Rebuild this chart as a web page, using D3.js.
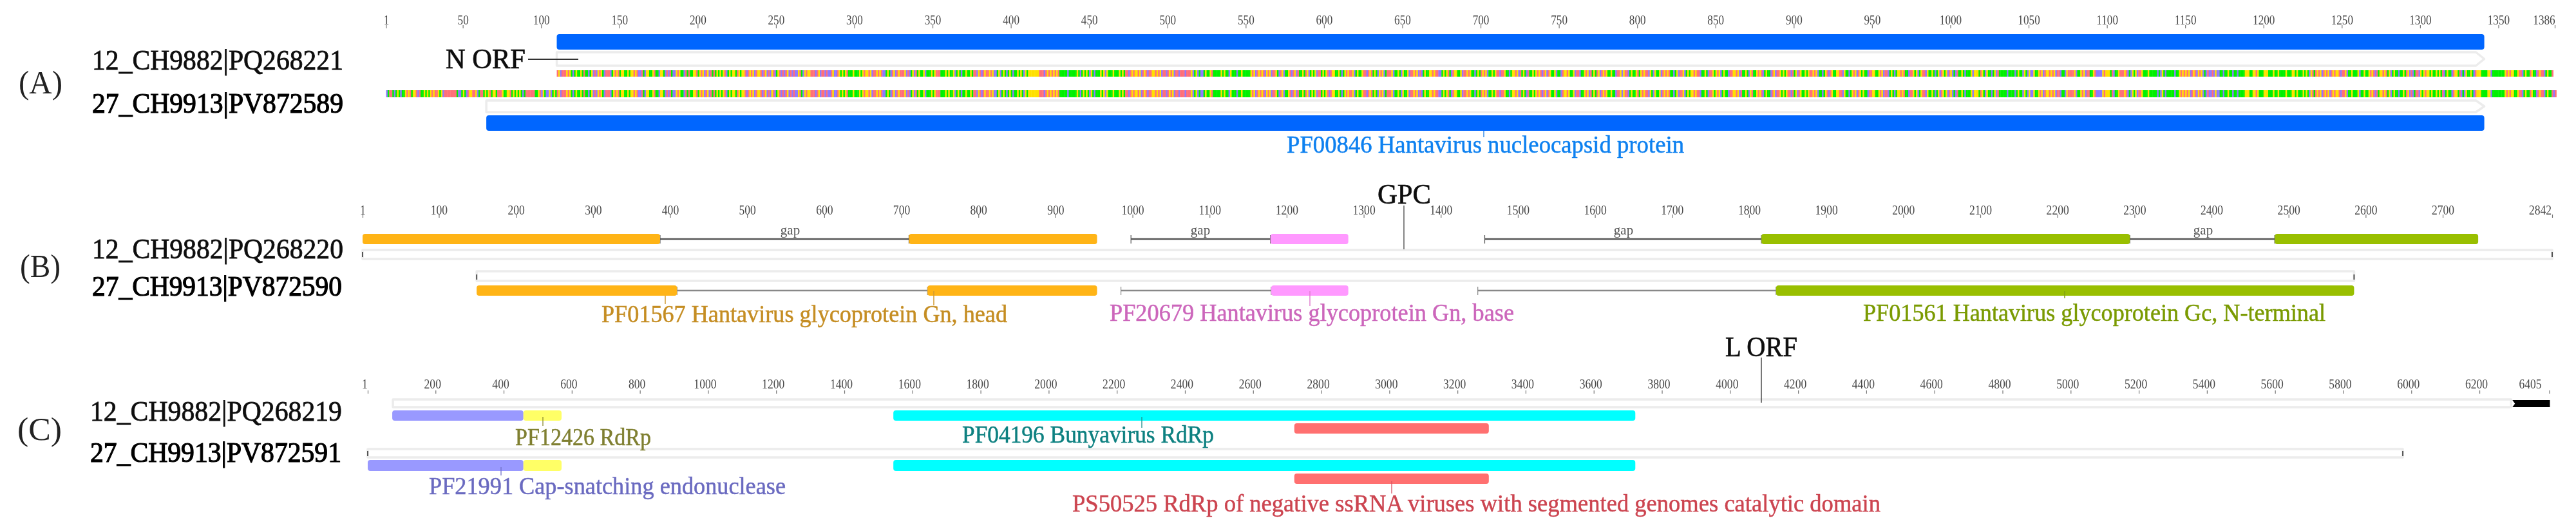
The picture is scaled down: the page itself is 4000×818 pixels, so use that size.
<!DOCTYPE html>
<html>
<head>
<meta charset="utf-8">
<script src="https://cdn.jsdelivr.net/npm/d3@7"></script>
<style>
  html, body { margin: 0; padding: 0; background: #ffffff; }
  svg { display: block; font-family: "Liberation Serif", serif; }
</style>
</head>
<body>
<div id="chart"></div>
<script>
// Ruler ticks, in alignment coordinates
const nTicks = [1, 50, 100, 150, 200, 250, 300, 350, 400, 450, 500, 550, 600, 650, 700, 750, 800, 850, 900, 950, 1000, 1050, 1100, 1150, 1200, 1250, 1300, 1350, 1386];
const gpcTicks = [1, 100, 200, 300, 400, 500, 600, 700, 800, 900, 1000, 1100, 1200, 1300, 1400, 1500, 1600, 1700, 1800, 1900, 2000, 2100, 2200, 2300, 2400, 2500, 2600, 2700, 2842];
const lTicks = [1, 200, 400, 600, 800, 1000, 1200, 1400, 1600, 1800, 2000, 2200, 2400, 2600, 2800, 3000, 3200, 3400, 3600, 3800, 4000, 4200, 4400, 4600, 4800, 5000, 5200, 5400, 5600, 5800, 6000, 6200, 6405];

// Sequence names
const nNames = ["12_CH9882|PQ268221", "27_CH9913|PV872589"];
const gpcNames = ["12_CH9882|PQ268220", "27_CH9913|PV872590"];
const lNames = ["12_CH9882|PQ268219", "27_CH9913|PV872591"];

// N ORF: annotated ranges
const nDomain12 = [[110, 1341]];
const nDomain27 = [[65, 1341]];
const nArrow12 = [110, 1341];
const nArrow27 = [65, 1341];
const nStrip12 = [110, 1384];

// Nucleotide strip, estimated by eye in blocks of 50 bases
const nBases = [
  "CTAATCTGTCTTGAGATGGACATTGTGTGAGAAGTGCAAAAAAAATCCTG",
  "TCAGGAAGCTAATGTGATGGTAAAGTTGGATGTGTGTCTAAAAAATTGAC",
  "GTCCGCTGTAGCAAAGAGTCTGTTGTATTCTGCACGAGTCAAACTGAGAT",
  "GGTTGTGGAGACCATCGGTTGATTCGGTCACATCCGAGTTCATATTGGAT",
  "GAGCAGCATATGTGTGACTGTGGTAGTGGACAGAGCAGGACAGCACGACT",
  "GACACAGCACACCGATCGAGGAAACAGCAACACCAGCCAGTGTGATTTGT",
  "TTGTGAGGAGCAAGAGACCTGTCAGCAGAAAGCACTGCATGTTGCTTTGT",
  "GAAATTTGTGTTGCTGTCTTGTTGTAACGACAGAAGAGCCTGCTGTCTGT",
  "CTTGTGTCGTGGGGGGGAAACAGAGAGAGATTTTTCTTTTTGTCTGTGTC",
  "GTCTTTGTGCGTTTGTTTGTGTAACAGAGGAGCAGACAAGGAGAGCAACA",
  "GAGCAACAAACAAAGCTGCTCCTGTTGATTTTTGTGTTCGTTTCTTGTTT",
  "TTGAGCAGAGACGAGCAAGTCAGCTTGACAGCATTGTAGCTGTGCAATGT",
  "GACAGGTTGTCTGAGAAGCTGTTGAACAGATGTCGAGCTAAAGCTTGTCG",
  "TTGCAAGAGCACTGTTGGAGAACCTGTGATCAGGTTGCAAGAGTTCTGTA",
  "GAGCTTGTGAACAAGTTCTGGAGCATGTCATTGTGAGACAGCAGTTGCTT",
  "CAGGAGTTGCAACTTGAGCATGTAGCAGAGTTGTTCAAGCGAACTGTTGA",
  "TGAGAACGTCGTTGCAGAGATTCTGCAAGCTGTGGAGAACTTGTCAAGTG",
  "AGCTGTTCAAGGAGCATTGTCGATTGAGACTGTTCAGCAAGTGTGAACAT",
  "GCAGTTGTGAAGAGCTTCTGACAGTTGGAACGTTCTGAGCAGTGTTCAAG",
  "GTTGAGCAACTGTCTGGAGATTCAAGTGCTGAACGTTGTCTGCAGTGCAG",
  "CTCATTGTCTTTGCGGGTAGTCGTTCTGCATTTTTCTTTTCTGTTCGTCG",
  "CCGTTGAGCAGGAGAGCAACTTCGAAAAGCTTGAGCAATTGACCCCGAGG",
  "GTACTTGAAAGACTCGTGCAAGTTTGTTTTTCTCGTCTTTTTCTTGAGAG",
  "AGCAGACGAGCTCACCACGCCTTCTTGTTCTTCTTTTGGGTTGGAGTTTG",
  "GGTTTGTTGTTTTGTTTGGTGTTTGTGTCGATAGAGCAGAGCAGAGGACA",
  "AGCTTGTTTGCTTGTTGAGACATGGAGATGCTGTTCTTGTAGCACTAACG",
  "TGAGGTGTTGTGTACTGTTCAGGTACTCGTTGTCAGGGTTTTGGCTTTTT",
  "TTTGAGAGGTTGAACTGTTAGTTCAGAACTGTTACA"
];

// GPC ranges
const gpcGn12 = [[1, 387], [710, 954]];
const gpcBase12 = [[1179, 1280]];
const gpcGc12 = [[1816, 2294], [2482, 2746]];
const gpcGaps12 = [[387, 710], [998, 1179], [1457, 1816], [2294, 2482]];
const gpcGn27 = [[149, 409], [734, 954]];
const gpcBase27 = [[1180, 1280]];
const gpcGc27 = [[1835, 2585]];
const gpcGaps27 = [[409, 734], [985, 1180], [1448, 1835]];
const gpcArrow12 = [1, 2842];
const gpcArrow27 = [149, 2585];

// L ORF ranges
const lCap12 = [[73, 458]];
const lRdRpShort12 = [[458, 570]];
const lBunya12 = [[1544, 3722]];
const lCatalytic12 = [[2721, 3292]];
const lCap27 = [[1, 458]];
const lRdRpShort27 = [[458, 570]];
const lBunya27 = [[1544, 3722]];
const lCatalytic27 = [[2721, 3292]];
const lArrow12 = [75, 6293];
const lArrow27 = [1, 5975];
const lTail12 = [6293, 6405];

const baseColor = {A: "#ff6f78", C: "#8f78ff", G: "#ffe000", T: "#00f000"};

const width = 4000;
const height = 818;

const svg = d3.select("#chart")
  .append("svg")
  .attr("width", width)
  .attr("height", height);

// The source is a soft, upscaled image, so everything gets a slight blur
svg.append("defs").append("filter").attr("id", "soft")
  .attr("filterUnits", "userSpaceOnUse")
  .attr("x", 0).attr("y", 0).attr("width", width).attr("height", height)
  .append("feGaussianBlur").attr("stdDeviation", 0.7);

const root = svg.append("g").attr("filter", "url(#soft)");

// One linear scale per panel
const xN = d3.scaleLinear().domain([1, 1386]).range([599.5, 3967]);
const xGpc = d3.scaleLinear().domain([1, 2842]).range([563, 3963]);
const xL = d3.scaleLinear().domain([1, 6405]).range([571, 3958.5]);

// Draws a ruler through d3.axisTop, nudging the labels the way the source has them
function drawRuler(scale, ticks, y, fontSize, textScale, labelShift, lastShift, labelLift) {
  const g = root.append("g")
    .attr("transform", `translate(0, ${y})`)
    .call(d3.axisTop(scale).tickValues(ticks).tickFormat(d3.format("d")).tickSize(5).tickPadding(labelLift));
  g.select(".domain").remove();
  g.selectAll(".tick line").attr("stroke", "#777").attr("stroke-width", 1.2);
  g.selectAll(".tick text")
    .attr("fill", "#4a4a4a")
    .attr("font-family", "Liberation Serif")
    .attr("font-size", fontSize)
    .attr("transform", (d, i) => {
      const shift = i === ticks.length - 1 ? lastShift : labelShift;
      return `translate(${shift}, 0) scale(${textScale}, 1)`;
    });
}

drawRuler(xN, nTicks, 44, 20, 0.86, 0, -17, 1);
drawRuler(xGpc, gpcTicks, 338, 20, 0.88, 0, -19, 0);
drawRuler(xL, lTicks, 611, 21, 0.84, -5, -30, 3);

// Rounded feature bars
function drawBars(scale, ranges, y0, y1, fill) {
  root.append("g").selectAll("rect")
    .data(ranges)
    .enter()
    .append("rect")
    .attr("x", d => scale(d[0]))
    .attr("y", y0)
    .attr("width", d => scale(d[1]) - scale(d[0]))
    .attr("height", y1 - y0)
    .attr("rx", 4)
    .attr("fill", fill);
}

// Gap line with small end caps
function drawGaps(scale, ranges, y, color) {
  const g = root.append("g").attr("stroke", color).attr("stroke-width", 2.6);
  ranges.forEach(d => {
    g.append("line").attr("x1", scale(d[0])).attr("x2", scale(d[1])).attr("y1", y).attr("y2", y);
    g.append("line").attr("x1", scale(d[0])).attr("x2", scale(d[0])).attr("y1", y - 6).attr("y2", y + 7).attr("stroke-width", 1.2);
    g.append("line").attr("x1", scale(d[1])).attr("x2", scale(d[1])).attr("y1", y - 6).attr("y2", y + 7).attr("stroke-width", 1.2);
  });
}

// Pale outlined ORF arrow
function drawArrow(scale, range, y0, y1, tip) {
  const xa = scale(range[0]);
  const xb = scale(range[1]);
  const mid = (y0 + y1) / 2;
  const line = d3.line();
  const pts = tip > 0
    ? [[xa, y0], [xb - tip, y0], [xb, mid], [xb - tip, y1], [xa, y1]]
    : [[xa, y0], [xb, y0], [xb, y1], [xa, y1]];
  root.append("path")
    .attr("d", line(pts) + "Z")
    .attr("fill", "#ffffff")
    .attr("stroke", "#ececec")
    .attr("stroke-width", 3.5)
    .attr("stroke-linejoin", "round");
}

// Little dark cap at the ends of an arrow
function drawCap(scale, pos, y) {
  root.append("rect")
    .attr("x", scale(pos) - 1)
    .attr("y", y - 4)
    .attr("width", 2)
    .attr("height", 8)
    .attr("fill", "#555");
}

// Colored sequence strip, one rect per base
function drawStrip(scale, start, end, y0, y1) {
  const bases = nBases.join("").slice(start - 1, end).split("");
  const step = scale(2) - scale(1);
  root.append("g")
    .selectAll("rect")
    .data(bases)
    .enter()
    .append("rect")
    .attr("x", (d, i) => scale(start + i))
    .attr("y", y0)
    .attr("width", step + 0.4)
    .attr("height", y1 - y0)
    .attr("fill", d => baseColor[d]);
}

// Text squeezed or stretched to span the same width as in the source
function drawLabel(text, x0, x1, baseline, size, fill, strokeWidth) {
  root.append("text")
    .attr("x", x0)
    .attr("y", baseline)
    .attr("font-size", size)
    .attr("fill", fill)
    .attr("stroke", strokeWidth ? fill : "none")
    .attr("stroke-width", strokeWidth || 0)
    .attr("textLength", x1 - x0)
    .attr("lengthAdjust", "spacingAndGlyphs")
    .text(text);
}

function drawLeader(x1, y1, x2, y2, color, w) {
  root.append("line")
    .attr("x1", x1).attr("y1", y1)
    .attr("x2", x2).attr("y2", y2)
    .attr("stroke", color)
    .attr("stroke-width", w);
}

// Panel letters and sequence names
const black = "#111";
const labelSize = 37;
const nameSize = 44;
drawLabel("(A)", 29, 97, 145, 50, "#222");
drawLabel("(B)", 31, 94, 430, 50, "#222");
drawLabel("(C)", 27, 96, 683, 50, "#222");
drawLabel(nNames[0], 143, 533, 108, nameSize, black, 0.8);
drawLabel(nNames[1], 143, 533, 175, nameSize, "#000", 1.2);
drawLabel(gpcNames[0], 143, 533, 401, nameSize, black, 0.8);
drawLabel(gpcNames[1], 143, 531, 459, nameSize, "#000", 1.2);
drawLabel(lNames[0], 140, 531, 653, nameSize, black, 0.8);
drawLabel(lNames[1], 140, 530, 717, nameSize, "#000", 1.2);

// Panel A
drawBars(xN, nDomain12, 53, 77, "#0066ff");
drawArrow(xN, nArrow12, 81, 102, 13);
drawStrip(xN, nStrip12[0], nStrip12[1], 109, 119);
drawStrip(xN, 1, 1386, 140, 151);
drawArrow(xN, nArrow27, 156, 174, 13);
drawBars(xN, nDomain27, 179, 203, "#0066ff");
drawLabel("N ORF", 692, 816, 106, 44, "#111", 0.7);
drawLeader(820, 92, 898, 92, "#333", 2);
drawLeader(2304, 203, 2304, 213, "#3a8ee8", 1.5);
drawLabel("PF00846 Hantavirus nucleocapsid protein", 1998, 2615, 237, labelSize, "#0a80f0", 0.5);

// Panel B
drawGaps(xGpc, gpcGaps12, 371, "#555");
drawBars(xGpc, gpcGn12, 363, 379, "#ffb414");
drawBars(xGpc, gpcBase12, 363, 379, "#ff99ff");
drawBars(xGpc, gpcGc12, 363, 379, "#99bf00");
drawArrow(xGpc, gpcArrow12, 388, 402, 0);
drawCap(xGpc, 1, 395);
drawCap(xGpc, 2842, 395);
drawArrow(xGpc, gpcArrow27, 421, 436, 0);
drawCap(xGpc, 149, 430);
drawCap(xGpc, 2585, 430);
drawGaps(xGpc, gpcGaps27, 451, "#888");
drawBars(xGpc, gpcGn27, 443, 459, "#ffb414");
drawBars(xGpc, gpcBase27, 443, 459, "#ff99ff");
drawBars(xGpc, gpcGc27, 443, 459, "#99bf00");
[1227, 1864, 2521, 3421].forEach(gapX => {
  root.append("text")
    .attr("x", gapX).attr("y", 364)
    .attr("text-anchor", "middle")
    .attr("font-size", 21)
    .attr("fill", "#555")
    .text("gap");
});
drawLabel("GPC", 2139, 2222, 316, 44, "#111", 0.7);
drawLeader(2180, 319, 2180, 387, "#666", 1.6);
drawLeader(1033, 459, 1033, 472, "#d09a30", 1.5);
drawLeader(1450, 452, 1450, 474, "#d09a30", 1.5);
drawLeader(2034, 452, 2034, 475, "#e080d0", 1.5);
drawLeader(3206, 452, 3206, 463, "#80a010", 1.5);
drawLabel("PF01567 Hantavirus glycoprotein Gn, head", 934, 1564, 500, labelSize, "#c58d22", 0.5);
drawLabel("PF20679 Hantavirus glycoprotein Gn, base", 1723, 2351, 498, labelSize, "#cc66bb", 0.5);
drawLabel("PF01561 Hantavirus glycoprotein Gc, N-terminal", 2893, 3611, 498, labelSize, "#7a9a05", 0.5);

// Panel C
drawArrow(xL, lArrow12, 620, 632, 0);
root.append("path")
  .attr("d", d3.line()([[xL(lTail12[0]) + 2, 621], [xL(lTail12[1]) + 1, 621], [xL(lTail12[1]) + 1, 632], [xL(lTail12[0]) + 2, 632], [xL(lTail12[0]) + 6, 626.5]]) + "Z")
  .attr("fill", "#000");
drawBars(xL, lCap12, 637, 653, "#9999ff");
drawBars(xL, lRdRpShort12, 637, 653, "#ffff66");
drawBars(xL, lBunya12, 637, 653, "#00ffff");
drawBars(xL, lCatalytic12, 657, 673, "#ff6f70");
drawArrow(xL, lArrow27, 697, 710, 0);
drawCap(xL, 1, 704);
drawCap(xL, 5975, 704);
drawBars(xL, lCap27, 714, 731, "#9999ff");
drawBars(xL, lRdRpShort27, 714, 731, "#ffff66");
drawBars(xL, lBunya27, 714, 731, "#00ffff");
drawBars(xL, lCatalytic27, 735, 751, "#ff6f70");
drawLabel("L ORF", 2679, 2791, 553, 44, "#111", 0.7);
drawLeader(2735, 555, 2735, 625, "#555", 1.6);
drawLeader(843, 647, 843, 661, "#8a8a30", 1.3);
drawLeader(1773, 647, 1773, 664, "#20908a", 1.3);
drawLeader(778, 725, 778, 738, "#7070c8", 1.3);
drawLeader(2161, 747, 2161, 766, "#d85060", 1.3);
drawLabel("PF12426 RdRp", 800, 1011, 691, labelSize, "#7f7f30", 0.5);
drawLabel("PF04196 Bunyavirus RdRp", 1494, 1885, 687, labelSize, "#0a8080", 0.5);
drawLabel("PF21991 Cap-snatching endonuclease", 666, 1220, 767, labelSize, "#6a6ac0", 0.5);
drawLabel("PS50525 RdRp of negative ssRNA viruses with segmented genomes catalytic domain", 1665, 2920, 794, labelSize, "#cc4450", 0.5);
</script>
</body>
</html>
